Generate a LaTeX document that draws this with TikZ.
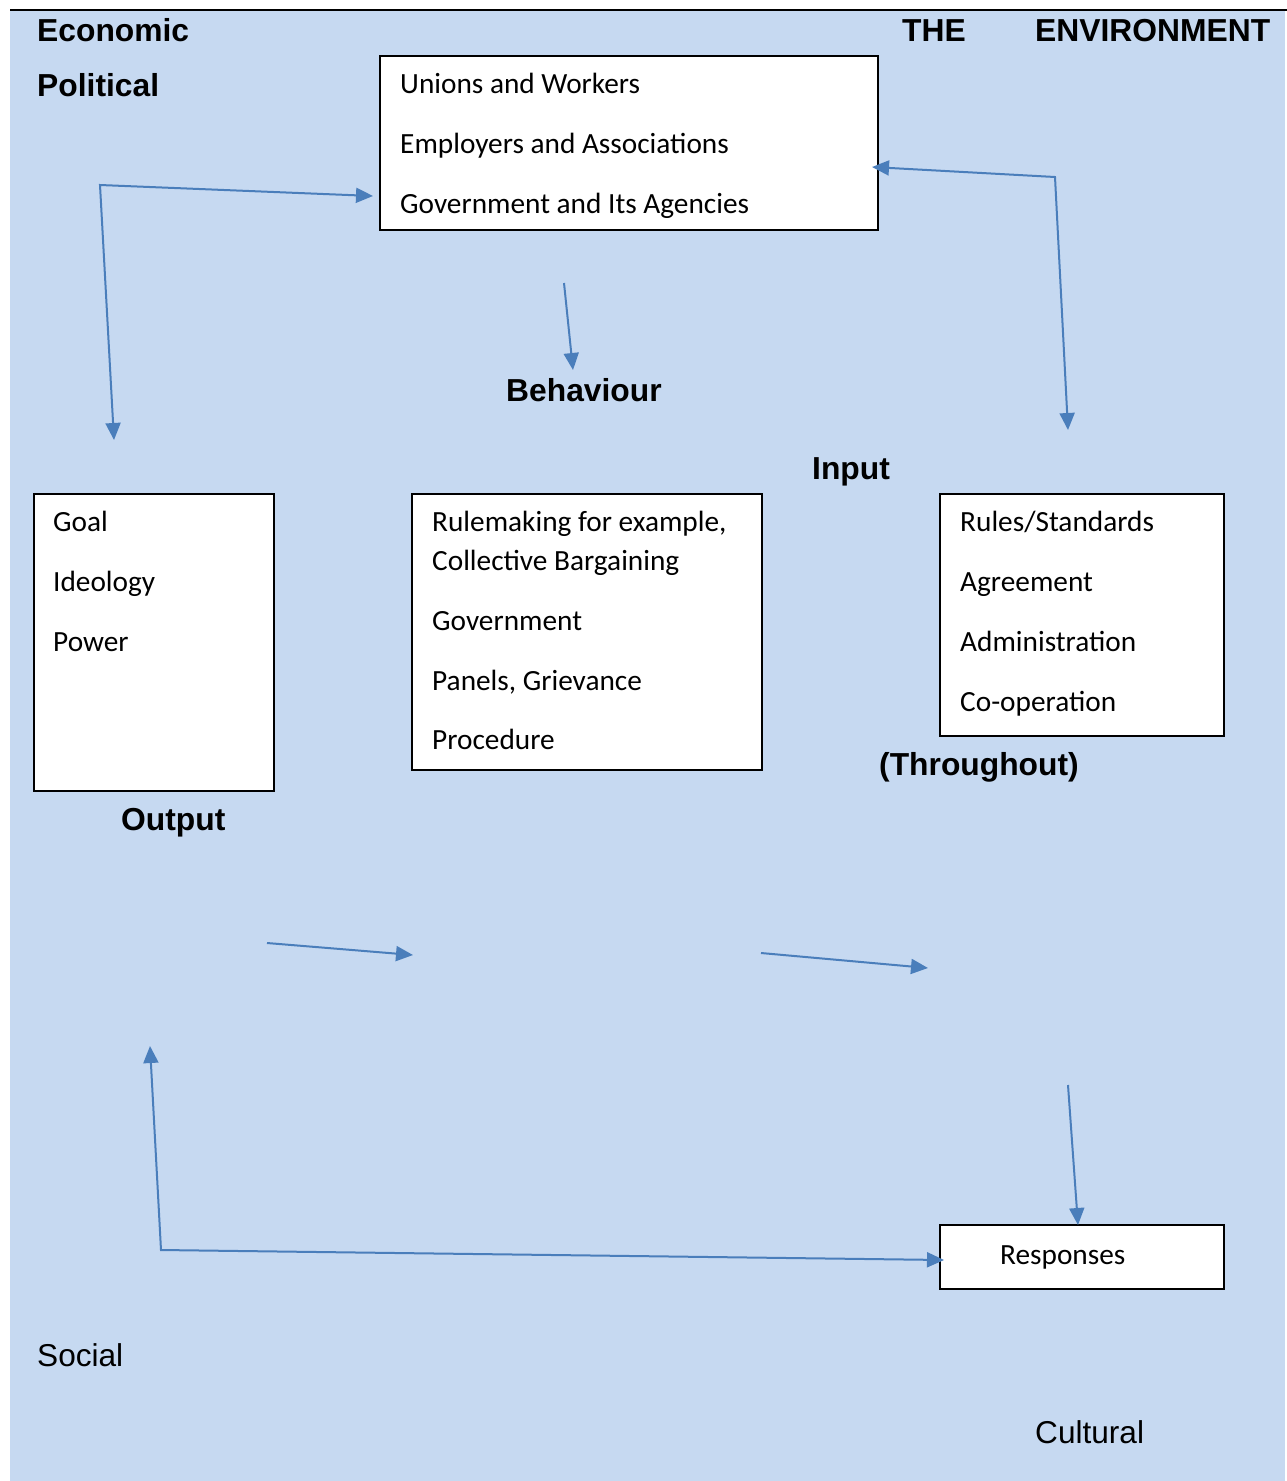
\documentclass[tikz,border=0pt]{standalone}
\usepackage{fontspec}
\setmainfont{Liberation Sans}
\newfontfamily\calfont{Carlito}
\usetikzlibrary{arrows.meta}
\definecolor{envbg}{HTML}{C6D9F1}
\definecolor{arrowblue}{HTML}{4A7EBB}
\begin{document}
\begin{tikzpicture}[x=1pt,y=-1pt,
  bigtxt/.style={font=\fontsize{31.8}{36}\selectfont\bfseries, anchor=base west, inner sep=0pt},
  plaintxt/.style={font=\fontsize{31.6}{36}\selectfont, anchor=base west, inner sep=0pt},
  boxtxt/.style={font=\calfont\fontsize{29.3}{34}\selectfont, anchor=base west, inner sep=0pt},
  frame/.style={draw=black, line width=1.6pt, fill=white, anchor=north west, inner sep=0pt},
  conn/.style={draw=arrowblue, line width=2pt, -{Triangle[length=17pt,width=15pt]}},
  conntwo/.style={draw=arrowblue, line width=2pt, {Triangle[length=17pt,width=15pt]}-{Triangle[length=17pt,width=15pt]}, line join=miter}
]
\useasboundingbox (0,0) rectangle (1287,1481);
\fill[envbg] (10,10) rectangle (1285,1481);
\draw[line width=2pt] (10,10) -- (1287,10);

% corner labels
\node[bigtxt] (econ) at (37,41) {Economic};
\node[bigtxt] (polit) at (37,96) {Political};
\node[bigtxt] (the) at (902,41) {THE};
\node[bigtxt] (envir) at (1035,41) {ENVIRONMENT};
\node[plaintxt] (social) at (37,1366) {Social};
\node[plaintxt] (cultural) at (1035,1443) {Cultural};

% section labels
\node[bigtxt] (behav) at (506,401) {Behaviour};
\node[bigtxt] (input) at (812,479) {Input};
\node[bigtxt] (through) at (879,775) {(Throughout)};
\node[bigtxt] (output) at (121,830) {Output};

% top box
\node[frame, minimum width=498pt, minimum height=174pt] (actors) at (379,55) {};
\node[boxtxt] (t1) at (400,93) {Unions and Workers};
\node[boxtxt] (t2) at (400,153) {Employers and Associations};
\node[boxtxt] (t3) at (400,213) {Government and Its Agencies};

% goal box
\node[frame, minimum width=240pt, minimum height=297pt] (goals) at (33,493) {};
\node[boxtxt] (g1) at (53,531) {Goal};
\node[boxtxt] (g2) at (53,591) {Ideology};
\node[boxtxt] (g3) at (53,651) {Power};

% middle box
\node[frame, minimum width=350pt, minimum height=276pt] (rules) at (411,493) {};
\node[boxtxt] (m1) at (432,531) {Rulemaking for example,};
\node[boxtxt] (m2) at (432,570) {Collective Bargaining};
\node[boxtxt] (m3) at (432,630) {Government};
\node[boxtxt] (m4) at (432,690) {Panels, Grievance};
\node[boxtxt] (m5) at (432,749) {Procedure};

% right box
\node[frame, minimum width=284pt, minimum height=242pt] (results) at (939,493) {};
\node[boxtxt] (r1) at (960,531) {Rules/Standards};
\node[boxtxt] (r2) at (960,591) {Agreement};
\node[boxtxt] (r3) at (960,651) {Administration};
\node[boxtxt] (r4) at (960,711) {Co-operation};

% responses box
\node[frame, minimum width=284pt, minimum height=64pt] (resp) at (939,1224) {};
\node[boxtxt] (rt) at (1000,1264) {Responses};

% connectors
\coordinate (lc) at (100,185);
\coordinate (la) at (373,196);
\coordinate (lb) at (114,440);
\draw[conntwo] (la) -- (lc) -- (lb);

\coordinate (rc) at (1055,177);
\coordinate (ra) at (872,167);
\coordinate (rb) at (1068,430);
\draw[conntwo] (ra) -- (rc) -- (rb);

\coordinate (bs) at (564,283);
\coordinate (be) at (573,370);
\draw[conn] (bs) -- (be);

\coordinate (h1s) at (267,943);
\coordinate (h1e) at (413,955);
\draw[conn] (h1s) -- (h1e);

\coordinate (h2s) at (761,953);
\coordinate (h2e) at (928,968);
\draw[conn] (h2s) -- (h2e);

\coordinate (vs) at (1068,1085);
\coordinate (ve) at (1078,1225);
\draw[conn] (vs) -- (ve);

\coordinate (fc) at (161,1250);
\coordinate (fa) at (150,1046);
\coordinate (fb) at (944,1260);
\draw[conntwo] (fa) -- (fc) -- (fb);
\end{tikzpicture}
\end{document}
